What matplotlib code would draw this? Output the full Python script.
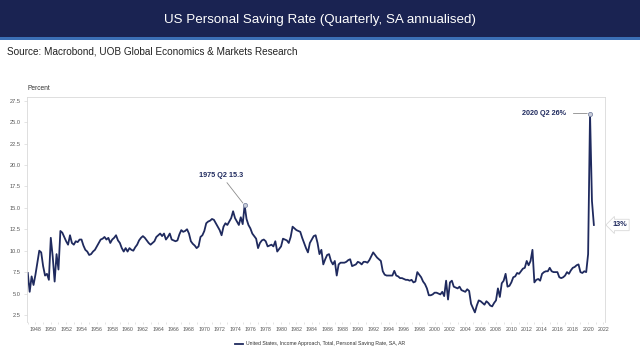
#!/usr/bin/env python3
"""
US Personal Saving Rate (Quarterly, SA annualised) - UOB style chart.

Output:
    - out.png (640x355)
"""

import matplotlib
matplotlib.use('Agg')
import matplotlib.pyplot as plt
from matplotlib.patches import Rectangle
import numpy as np

COLORS = {
    'banner': '#1a2352',
    'stripe': '#3b6fb6',
    'line': '#1f2a5e',
    'text': '#555555',
    'frame': '#d9d9d9',
    'marker_face': '#c9cdd9',
    'marker_edge': '#7d88a6',
    'leader': '#8c8c8c',
}

plt.rcParams['font.family'] = ['Liberation Sans', 'DejaVu Sans']

# Quarterly data, 1947 Q1 .. 2020 Q4 (percent, SA annual rate)
START_YEAR = 1947
saving_rate = [
    7.4, 5.2, 7.0, 6.0,      # 1947
    7.2, 8.6, 10.0, 9.8,     # 1948
    8.2, 7.1, 7.3, 6.6,      # 1949
    11.5, 9.3, 6.4, 9.6,     # 1950
    7.8, 12.3, 12.1, 11.6,   # 1951
    11.1, 10.7, 11.8, 10.9,  # 1952
    10.7, 11.1, 11.0, 11.3,  # 1953
    11.3, 10.6, 10.1, 9.9,   # 1954
    9.5, 9.6, 9.9, 10.1,     # 1955
    10.5, 10.9, 11.3, 11.4,  # 1956
    11.6, 11.3, 11.5, 10.9,  # 1957
    11.3, 11.5, 11.8, 11.2,  # 1958
    10.9, 10.3, 9.9, 10.3,   # 1959
    9.9, 10.3, 10.1, 10.0,   # 1960
    10.4, 10.7, 11.2, 11.5,  # 1961
    11.7, 11.5, 11.2, 10.9,  # 1962
    10.7, 10.9, 11.1, 11.6,  # 1963
    11.8, 12.0, 11.7, 12.0,  # 1964
    11.3, 11.6, 12.0, 11.3,  # 1965
    11.2, 11.1, 11.2, 11.9,  # 1966
    12.4, 12.2, 12.3, 12.5,  # 1967
    12.0, 11.1, 10.8, 10.6,  # 1968
    10.3, 10.5, 11.6, 11.8,  # 1969
    12.3, 13.2, 13.4, 13.5,  # 1970
    13.7, 13.6, 13.2, 12.8,  # 1971
    12.4, 11.8, 12.8, 13.2,  # 1972
    13.0, 13.4, 13.8, 14.6,  # 1973
    13.8, 13.4, 13.0, 13.9,  # 1974
    13.1, 15.3, 13.7, 13.0,  # 1975
    12.6, 12.0, 11.7, 11.4,  # 1976
    10.3, 10.9, 11.2, 11.3,  # 1977
    11.1, 10.5, 10.6, 10.7,  # 1978
    10.5, 11.1, 9.9, 10.2,   # 1979
    10.5, 11.4, 11.3, 11.2,  # 1980
    10.9, 11.6, 12.8, 12.6,  # 1981
    12.4, 12.3, 12.2, 11.5,  # 1982
    10.9, 10.3, 9.8, 10.9,   # 1983
    11.3, 11.7, 11.8, 10.9,  # 1984
    9.6, 10.1, 8.4, 9.0,     # 1985
    9.5, 9.6, 8.8, 8.4,      # 1986
    8.8, 7.1, 8.4, 8.6,      # 1987
    8.6, 8.6, 8.7, 8.9,      # 1988
    9.0, 8.2, 8.3, 8.4,      # 1989
    8.7, 8.6, 8.4, 8.7,      # 1990
    8.7, 8.6, 8.9, 9.35,     # 1991
    9.8, 9.5, 9.2, 9.0,      # 1992
    8.8, 7.6, 7.2, 7.1,      # 1993
    7.1, 7.1, 7.1, 7.65,     # 1994
    7.1, 7.0, 6.8, 6.8,      # 1995
    6.7, 6.6, 6.6, 6.5,      # 1996
    6.6, 6.3, 6.4, 7.5,      # 1997
    7.2, 6.9, 6.4, 6.1,      # 1998
    5.6, 4.8, 4.8, 4.9,      # 1999
    5.1, 5.1, 5.0, 4.9,      # 2000
    5.2, 4.7, 6.5, 4.3,      # 2001
    6.3, 6.5, 5.8, 5.7,      # 2002
    5.6, 5.8, 5.4, 5.3,      # 2003
    5.2, 5.5, 5.3, 3.8,      # 2004
    3.3, 2.8, 3.6, 4.2,      # 2005
    4.1, 3.9, 3.7, 4.1,      # 2006
    3.9, 3.6, 3.5, 3.9,      # 2007
    4.2, 5.6, 4.6, 6.2,      # 2008
    6.5, 7.3, 5.8, 5.9,      # 2009
    6.3, 6.9, 7.0, 7.4,      # 2010
    7.3, 7.6, 7.9, 8.0,      # 2011
    8.8, 8.3, 8.8, 10.1,     # 2012
    6.3, 6.6, 6.7, 6.5,      # 2013
    7.3, 7.5, 7.6, 7.6,      # 2014
    8.0, 7.6, 7.5, 7.5,      # 2015
    7.5, 6.9, 6.8, 6.9,      # 2016
    7.1, 7.5, 7.3, 7.7,      # 2017
    8.0, 8.1, 8.3, 8.4,      # 2018
    7.5, 7.4, 7.6, 7.5,      # 2019
    9.6, 26.0, 15.8, 13.0,   # 2020
]

x_ticks = list(range(1948, 2023, 2))
y_ticks = [2.5, 5.0, 7.5, 10.0, 12.5, 15.0, 17.5, 20.0, 22.5, 25.0, 27.5]

TITLE = 'US Personal Saving Rate (Quarterly, SA annualised)'
SOURCE = 'Source: Macrobond, UOB Global Economics & Markets Research'
SERIES = 'United States, Income Approach, Total, Personal Saving Rate, SA, AR'


def create_chart():
    fig = plt.figure(figsize=(6.4, 3.55), dpi=100, facecolor='white')

    # === HEADER BANNER ===
    fig.patches.append(Rectangle((0, 1 - 37 / 355), 1, 37 / 355, transform=fig.transFigure,
                                 facecolor=COLORS['banner'], edgecolor='none', zorder=0))
    fig.patches.append(Rectangle((0, 1 - 40 / 355), 1, 3 / 355, transform=fig.transFigure,
                                 facecolor=COLORS['stripe'], edgecolor='none', zorder=0))
    fig.text(0.5, 1 - 20 / 355, TITLE, color='white', fontsize=9.6,
             ha='center', va='center')
    fig.text(7 / 640, 1 - 52 / 355, SOURCE, color='#222222', fontsize=7.2,
             ha='left', va='center')

    # === PLOT AREA ===
    ax = fig.add_axes([27 / 640, 1 - 322 / 355, 578 / 640, 225 / 355])
    values = np.array(saving_rate)
    dates = START_YEAR + np.arange(len(values)) / 4.0

    ax.plot(dates, values, color=COLORS['line'], linewidth=1.3,
            solid_joinstyle='round', label=SERIES)

    ax.set_xlim(1946.9, 2022.2)
    ax.set_ylim(1.68, 27.93)
    ax.set_xticks(x_ticks)
    ax.set_xticklabels([str(y) for y in x_ticks])
    ax.set_xticks(range(1947, 2023), minor=True)
    ax.set_yticks(y_ticks)
    ax.set_yticklabels([f'{v:.1f}' for v in y_ticks])
    ax.tick_params(axis='x', which='both', labelsize=3.8, colors=COLORS['frame'],
                   labelcolor=COLORS['text'], length=1.5, width=0.5, pad=2)
    ax.tick_params(axis='y', labelsize=4.1, length=2, width=0.5, colors=COLORS['frame'],
                   labelcolor=COLORS['text'], pad=2.5)
    for spine in ax.spines.values():
        spine.set_color(COLORS['frame'])
        spine.set_linewidth(0.6)
    ax.spines['bottom'].set_visible(False)

    ax.text(0, 1.02, 'Percent', transform=ax.transAxes, fontsize=4.8,
            color='#333333', ha='left', va='bottom')

    # === ANNOTATIONS ===
    i75 = int(np.argmax(np.where(dates < 1980, values, 0)))
    ipk = int(np.argmax(values))
    for i in (i75, ipk):
        ax.plot(dates[i], values[i], 'o', markersize=3, markerfacecolor=COLORS['marker_face'],
                markeredgecolor=COLORS['marker_edge'], markeredgewidth=0.6, zorder=5)

    ax.annotate(f'1975 Q2 {values[i75]:.1f}', xy=(dates[i75], values[i75]),
                xytext=(1972.2, 18.8), fontsize=5.2, fontweight='bold',
                color=COLORS['line'], ha='center', va='center',
                arrowprops=dict(arrowstyle='-', color=COLORS['leader'], lw=0.6,
                                shrinkA=1, shrinkB=2))
    ax.annotate(f'2020 Q2 {values[ipk]:.0f}%', xy=(dates[ipk], values[ipk]),
                xytext=(2014.3, values[ipk]), fontsize=5.2, fontweight='bold',
                color=COLORS['line'], ha='center', va='center',
                arrowprops=dict(arrowstyle='-', color=COLORS['leader'], lw=0.6,
                                shrinkA=3, shrinkB=2))
    ax.annotate(f'{values[-1]:.0f}%', xy=(dates[-1], values[-1]),
                xytext=(2024.1, values[-1]), fontsize=5.3, fontweight='bold',
                color=COLORS['line'], ha='center', va='center', annotation_clip=False,
                bbox=dict(boxstyle='larrow,pad=0.3', facecolor='white',
                          edgecolor=COLORS['frame'], linewidth=0.6))

    # === LEGEND ===
    fig.legend(loc='center', bbox_to_anchor=(0.5, 1 - 344 / 355), frameon=False,
               fontsize=3.7, handlelength=1.6, handletextpad=0.6,
               labelcolor='#333333')

    return fig


def main():
    fig = create_chart()
    fig.savefig('out.png', dpi=100, facecolor='white')
    plt.close(fig)


if __name__ == '__main__':
    main()
